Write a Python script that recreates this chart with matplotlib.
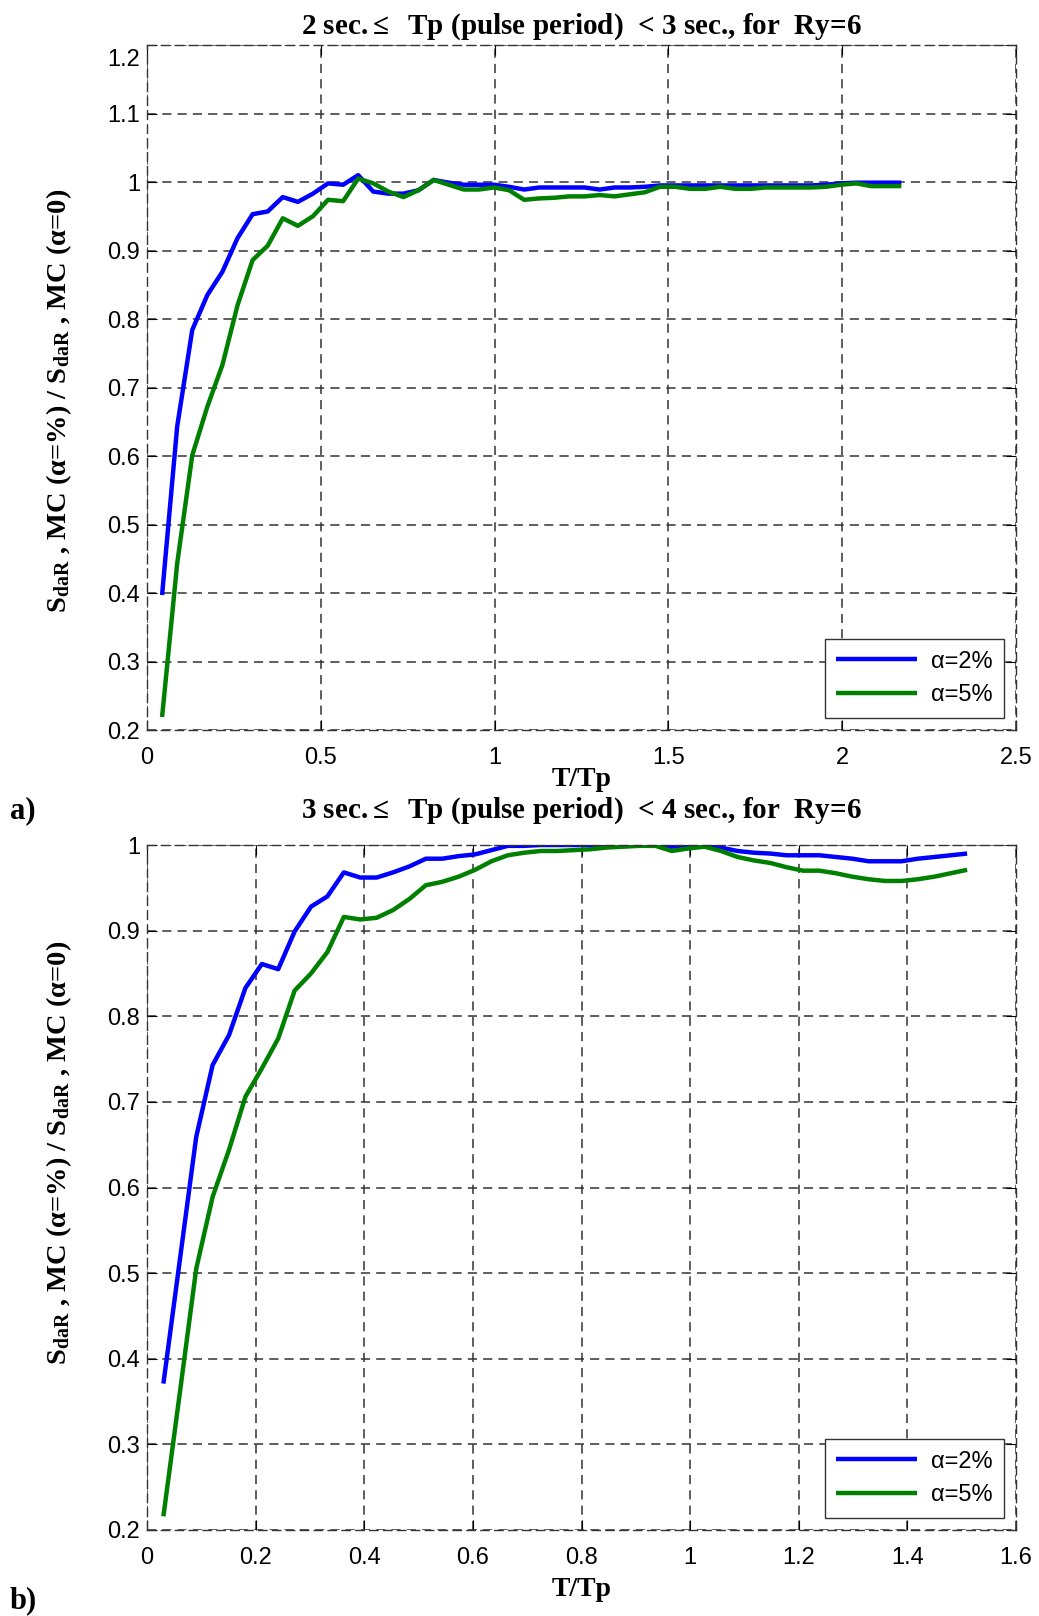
import matplotlib
matplotlib.use("Agg")
import matplotlib.pyplot as plt
import matplotlib.transforms as mtransforms
import numpy as np

# ---------------- data ----------------
n_pts = 50
step_a = 0.0434
step_b = 0.0302

blue_a = [0.397, 0.643, 0.784, 0.835, 0.869, 0.918, 0.953, 0.957, 0.978, 0.971,
          0.983, 0.998, 0.996, 1.010, 0.986, 0.983, 0.983, 0.988, 1.003, 0.999,
          0.996, 0.996, 0.996, 0.993, 0.989, 0.992, 0.992, 0.992, 0.992, 0.989,
          0.992, 0.992, 0.993, 0.995, 0.995, 0.995, 0.995, 0.995, 0.995, 0.995,
          0.995, 0.995, 0.995, 0.995, 0.996, 0.998, 0.999, 0.999, 0.999, 0.999]
green_a = [0.219, 0.443, 0.601, 0.672, 0.733, 0.820, 0.886, 0.907, 0.947, 0.936,
           0.950, 0.974, 0.972, 1.005, 0.998, 0.986, 0.978, 0.988, 1.003, 0.996,
           0.989, 0.989, 0.992, 0.988, 0.974, 0.976, 0.977, 0.979, 0.979, 0.981,
           0.979, 0.982, 0.985, 0.993, 0.993, 0.990, 0.990, 0.993, 0.990, 0.990,
           0.992, 0.992, 0.992, 0.992, 0.993, 0.996, 0.998, 0.994, 0.994, 0.994]

blue_b = [0.371, 0.515, 0.659, 0.743, 0.778, 0.833, 0.861, 0.855, 0.899, 0.928,
          0.940, 0.968, 0.962, 0.962, 0.968, 0.975, 0.984, 0.984, 0.987, 0.989,
          0.994, 0.999, 0.999, 1.000, 1.000, 1.000, 1.000, 1.000, 1.000, 1.000,
          1.000, 0.998, 1.000, 1.000, 0.997, 0.993, 0.991, 0.990, 0.988, 0.988,
          0.988, 0.986, 0.984, 0.981, 0.981, 0.981, 0.984, 0.986, 0.988, 0.990]
green_b = [0.216, 0.360, 0.505, 0.589, 0.644, 0.706, 0.739, 0.774, 0.830, 0.850,
           0.875, 0.916, 0.913, 0.915, 0.924, 0.937, 0.953, 0.957, 0.963, 0.971,
           0.981, 0.988, 0.991, 0.993, 0.993, 0.994, 0.995, 0.997, 0.998, 0.999,
           0.999, 0.993, 0.996, 0.998, 0.993, 0.986, 0.982, 0.979, 0.974, 0.970,
           0.970, 0.967, 0.963, 0.960, 0.958, 0.958, 0.960, 0.963, 0.967, 0.971]

x_a = step_a * np.arange(1, n_pts + 1)
x_b = step_b * np.arange(1, n_pts + 1)

xticks_a = [0, 0.5, 1, 1.5, 2, 2.5]
xticklabels_a = ["0", "0.5", "1", "1.5", "2", "2.5"]
yticks_a = [0.2, 0.3, 0.4, 0.5, 0.6, 0.7, 0.8, 0.9, 1.0, 1.1, 1.2]
yticklabels_a = ["0.2", "0.3", "0.4", "0.5", "0.6", "0.7", "0.8", "0.9", "1", "1.1", "1.2"]
xticks_b = [0, 0.2, 0.4, 0.6, 0.8, 1.0, 1.2, 1.4, 1.6]
xticklabels_b = ["0", "0.2", "0.4", "0.6", "0.8", "1", "1.2", "1.4", "1.6"]
yticks_b = [0.2, 0.3, 0.4, 0.5, 0.6, 0.7, 0.8, 0.9, 1.0]
yticklabels_b = ["0.2", "0.3", "0.4", "0.5", "0.6", "0.7", "0.8", "0.9", "1"]

title_a = "2 sec.$\\leq$  Tp (pulse period)  < 3 sec., for  Ry=6"
title_b = "3 sec.$\\leq$  Tp (pulse period)  < 4 sec., for  Ry=6"
legend_labels = ["α=2%", "α=5%"]
ylabel = "S$_{\\mathbf{daR}}$ , MC (α=%) / S$_{\\mathbf{daR}}$ , MC (α=0)"
xlabel = "T/Tp"

# ---------------- style ----------------
plt.rcParams['mathtext.fontset'] = 'custom'
plt.rcParams['mathtext.rm'] = 'Liberation Serif:bold'
plt.rcParams['mathtext.it'] = 'Liberation Serif:bold'
plt.rcParams['mathtext.bf'] = 'Liberation Serif:bold'
plt.rcParams['font.family'] = ['Liberation Sans', 'DejaVu Sans']

W, H = 1039, 1616
fig = plt.figure(figsize=(W / 100, H / 100), dpi=100)

serif = dict(family=['Liberation Serif', 'DejaVu Serif'], weight='bold')
BLUE = (0, 0, 1)
GREEN = (0, 0.5, 0)


def make_axes(rect, x, b, g, xlim, xt, xtl, yt, ytl, title, title_pad,
              xlabelpad, ylab_y, panel, panel_y):
    ax = fig.add_axes(rect)
    ax.plot(x, b, color=BLUE, lw=3.2, label=legend_labels[0], solid_capstyle='butt')
    ax.plot(x, g, color=GREEN, lw=3.2, label=legend_labels[1], solid_capstyle='butt')
    ax.set_xlim(*xlim)
    ax.set_ylim(0.2, yt[-1])
    ax.set_xticks(xt)
    ax.set_xticklabels(xtl)
    ax.set_yticks(yt)
    ax.set_yticklabels(ytl)
    ax.tick_params(direction='in', length=7, width=0.8, labelsize=17,
                   top=True, right=True, colors='black')
    ax.tick_params(axis='y', pad=5)
    ax.tick_params(axis='x', pad=12)
    ax.grid(True, color='0.2', lw=1.1, linestyle=(0, (6, 4)))
    for s in ax.spines.values():
        s.set_linestyle((0, (6, 4)))
        s.set_linewidth(1.0)
        s.set_color('0.2')
    ax.set_title(title, fontsize=21, pad=title_pad, **serif)
    ax.set_xlabel(xlabel, fontsize=20, labelpad=xlabelpad, **serif)
    yl = ax.set_ylabel(ylabel, fontsize=20.5, va='center', **serif)
    ax.yaxis.set_label_coords(-0.101, ylab_y)
    leg = ax.legend(loc='lower right', fontsize=17, frameon=True, fancybox=False,
                    handlelength=3.4, handletextpad=0.6, borderpad=0.5,
                    labelspacing=0.5, borderaxespad=0.5)
    leg.get_frame().set_edgecolor('0.2')
    leg.get_frame().set_linewidth(1.0)
    leg.get_frame().set_alpha(1)
    fig.text(10 / W, panel_y, panel, fontsize=22, va='center', ha='left', **serif)
    return ax


ax1 = make_axes([147 / W, 1 - 730 / H, 869 / W, 685 / H], x_a, blue_a, green_a,
                (0, 2.5), xticks_a, xticklabels_a, yticks_a, yticklabels_a,
                title_a, 8, -1, 0.48, "a)", 1 - 811 / H)
# MATLAB-style: top tick label sits slightly below the axis edge
lab = ax1.get_yticklabels()[-1]
lab.set_transform(lab.get_transform() + mtransforms.ScaledTranslation(0, -0.12, fig.dpi_scale_trans))

ax2 = make_axes([147 / W, 1 - 1530 / H, 869 / W, 685 / H], x_b, blue_b, green_b,
                (0, 1.6), xticks_b, xticklabels_b, yticks_b, yticklabels_b,
                title_b, 20, 6, 0.55, "b)", 1 - 1601 / H)

fig.savefig("out.png", dpi=100, facecolor='white')
